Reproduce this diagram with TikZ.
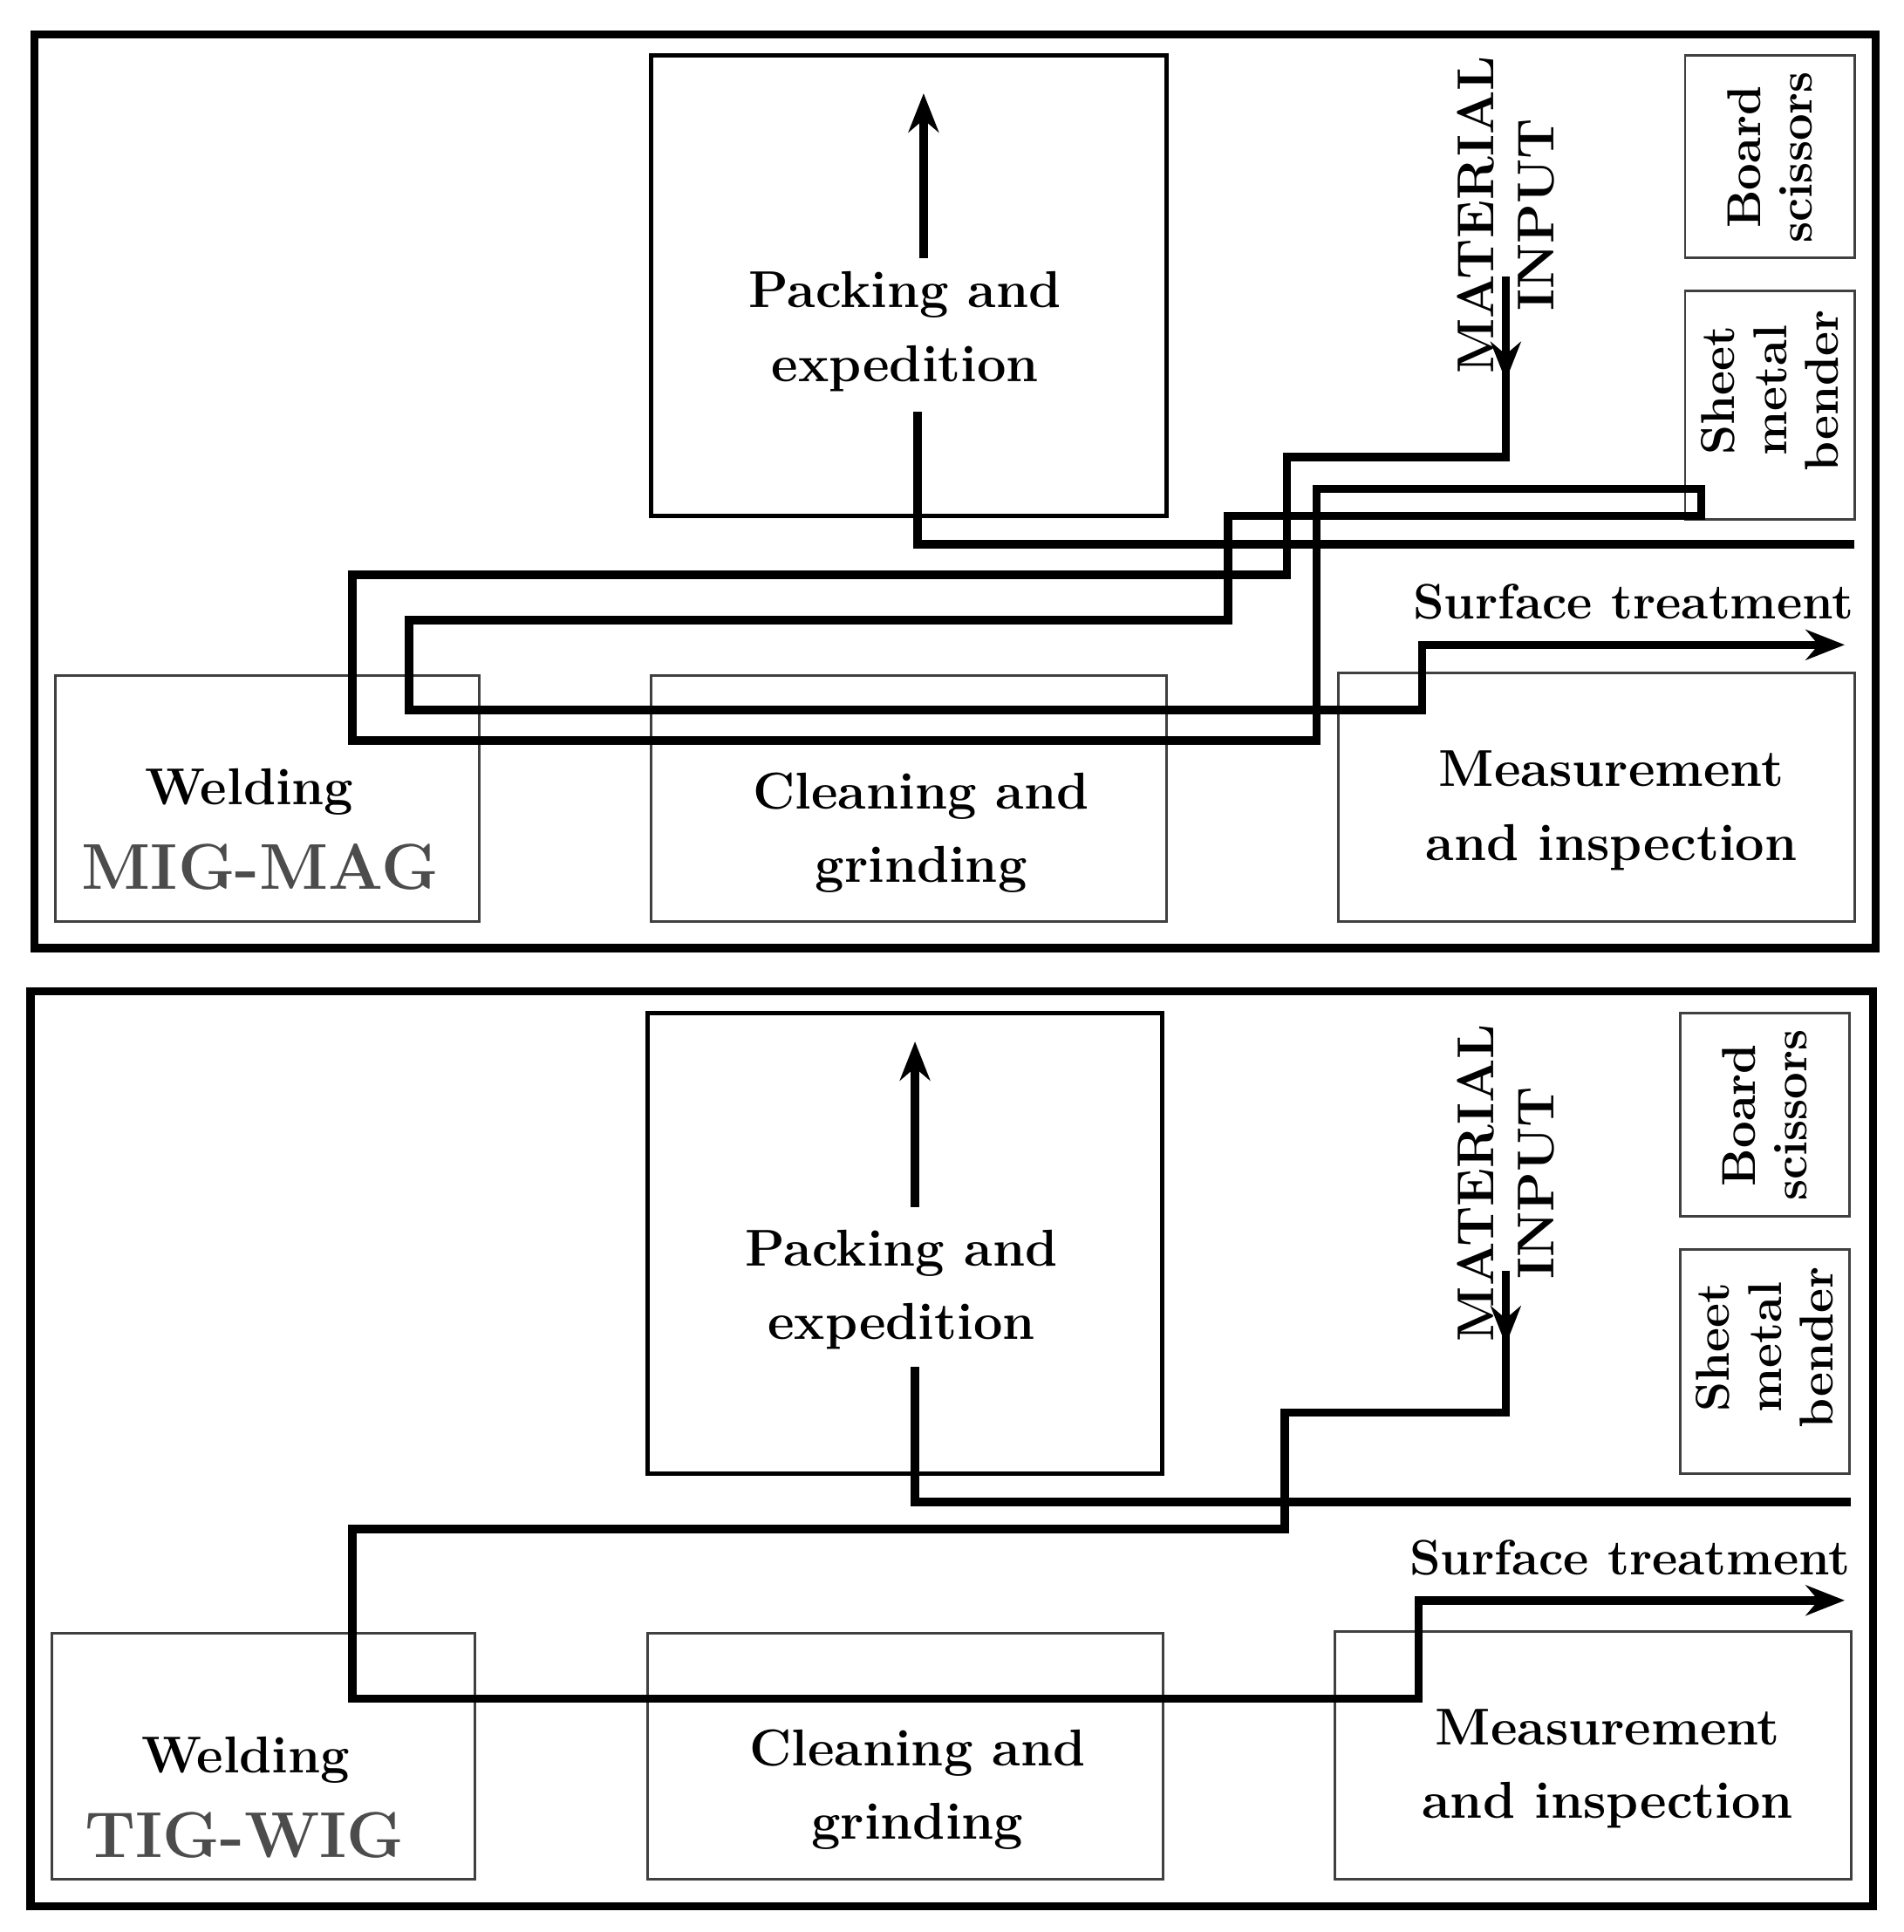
\documentclass[tikz,border=0pt]{standalone}
\usetikzlibrary{arrows.meta}
\begin{document}
\begin{tikzpicture}[x=0.01cm,y=-0.01cm,
  frame/.style={line width=1.9pt},
  box/.style={draw=black!75,line width=0.6pt},
  pbox/.style={draw=black,line width=1pt},
  flow/.style={line width=1.9pt,line join=miter},
  arr/.style={flow,-{Stealth[length=9pt,width=7pt]}},
  lbl/.style={font=\fontsize{12}{17}\selectfont\bfseries,align=center},
  vl/.style={font=\fontsize{11}{12}\selectfont\bfseries,align=center,rotate=90},
  big/.style={font=\fontsize{15}{20}\selectfont\bfseries,text=black!70}]
\useasboundingbox (0,0) rectangle (1550,1573);
% ===== top panel =====
\draw[frame] (28,28) rectangle (1527,772);
\draw[pbox] (530,45) rectangle (950,420);
\draw[box] (1372,45) rectangle (1510,210);
\draw[box] (1372,237) rectangle (1510,423);
\draw[box] (45,550) rectangle (390,750);
\draw[box] (530,550) rectangle (950,750);
\draw[box] (1090,548) rectangle (1510,750);
\node[lbl] (pk1) at (737,270) {Packing and\\expedition};
\node[vl] (bs1) at (1441,128) {Board\\scissors};
\node[vl] (sm1) at (1441,318) {Sheet\\metal\\bender};
\node[lbl] (w1) at (203,645) {Welding};
\node[big] (mm1) at (212,706) {MIG-MAG};
\node[lbl] (cl1) at (750,678) {Cleaning and\\grinding};
\node[lbl] (me1) at (1312,660) {Measurement\\and inspection};
\node[lbl,font=\fontsize{11.5}{17}\selectfont\bfseries] (st1) at (1330,490) {Surface treatment};
\node[vl,font=\fontsize{12}{14}\selectfont\bfseries] (mi1) at (1226,175) {MATERIAL\\INPUT};
\coordinate (a1s) at (1226,225); \coordinate (a1e) at (1226,310);
\draw[arr] (a1s) -- (a1e);
\coordinate (p1a) at (1226,300);
\draw[flow] (p1a) -- (1226,372) -- (1048,372) -- (1048,468) -- (287,468) -- (287,603) -- (1072,603) -- (1072,398) -- (1385,398) -- (1385,420) -- (1000,420) -- (1000,505) -- (333,505) -- (333,578) -- (1158,578) -- (1158,525) -- (1480,525);
\coordinate (st1e) at (1502,525); \coordinate (st1s) at (1470,525);
\draw[arr] (st1s) -- (st1e);
\draw[flow] (1510,443) -- (747,443) -- (747,335);
\coordinate (u1s) at (752,210); \coordinate (u1e) at (752,76);
\draw[arr] (u1s) -- (u1e);
% ===== bottom panel =====
\draw[frame] (25,807) rectangle (1525,1552);
\draw[pbox] (527,825) rectangle (946,1200);
\draw[box] (1368,825) rectangle (1506,990);
\draw[box] (1368,1017) rectangle (1506,1200);
\draw[box] (42,1330) rectangle (387,1530);
\draw[box] (527,1330) rectangle (947,1530);
\draw[box] (1087,1328) rectangle (1507,1530);
\node[lbl] (pk2) at (734,1050) {Packing and\\expedition};
\node[vl] (bs2) at (1437,908) {Board\\scissors};
\node[vl] (sm2) at (1437,1097) {Sheet\\metal\\bender};
\node[lbl] (w2) at (200,1433) {Welding};
\node[big] (tw2) at (199,1494) {TIG-WIG};
\node[lbl] (cl2) at (747,1457) {Cleaning and\\grinding};
\node[lbl] (me2) at (1309,1440) {Measurement\\and inspection};
\node[lbl,font=\fontsize{11.5}{17}\selectfont\bfseries] (st2) at (1327,1268) {Surface treatment};
\node[vl,font=\fontsize{12}{14}\selectfont\bfseries] (mi2) at (1226,963) {MATERIAL\\INPUT};
\coordinate (a2s) at (1226,1035); \coordinate (a2e) at (1226,1095);
\draw[arr] (a2s) -- (a2e);
\coordinate (p2a) at (1226,1085);
\draw[flow] (p2a) -- (1226,1150) -- (1046,1150) -- (1046,1245) -- (287,1245) -- (287,1383) -- (1155,1383) -- (1155,1303) -- (1480,1303);
\coordinate (st2e) at (1502,1303); \coordinate (st2s) at (1470,1303);
\draw[arr] (st2s) -- (st2e);
\draw[flow] (1507,1223) -- (745,1223) -- (745,1113);
\coordinate (u2s) at (745,983); \coordinate (u2e) at (745,848);
\draw[arr] (u2s) -- (u2e);
\end{tikzpicture}
\end{document}
